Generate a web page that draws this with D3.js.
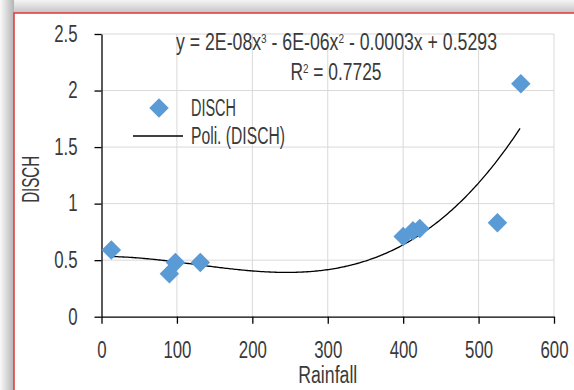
<!DOCTYPE html>
<html>
<head>
<meta charset="utf-8">
<script src="https://cdn.jsdelivr.net/npm/d3@7"></script>
<style>
  html, body { margin: 0; background: #fff; overflow: hidden; }
  svg { display: block; }
  text { font-family: "Liberation Sans", Arial, sans-serif; fill: #3a3a3a; }
</style>
</head>
<body>
<div id="chart"></div>
<script>
// Data
const rainfall = [13, 90, 98, 131, 400, 413, 422, 525, 556];
const disch = [0.59, 0.38, 0.48, 0.48, 0.71, 0.76, 0.78, 0.83, 2.06];
const xTicks = [0, 100, 200, 300, 400, 500, 600];
const yTicks = [0, 0.5, 1, 1.5, 2, 2.5];
const seriesName = "DISCH";
const trendName = "Poli. (DISCH)";
const xTitle = "Rainfall";
const yTitle = "DISCH";
// equation pieces: [text, superscript?]
const equation = [["y = 2E-08x", false], ["3", true], [" - 6E-06x", false], ["2", true], [" - 0.0003x + 0.5293", false]];
const rsq = [["R", false], ["2", true], [" = 0.7725", false]];

const width = 574, height = 390;
const plot = { left: 101.5, right: 554, top: 34, bottom: 316.7 };
const fs = 23; // font size, squeezed horizontally to mimic the condensed face

const svg = d3.select("#chart").append("svg")
  .attr("width", width)
  .attr("height", height);

// Shadowy frame around the chart
const defs = svg.append("defs");
const gTop = defs.append("linearGradient").attr("id", "shTop").attr("x1", 0).attr("y1", 0).attr("x2", 0).attr("y2", 1);
gTop.append("stop").attr("offset", "0%").attr("stop-color", "#f4f4f4");
gTop.append("stop").attr("offset", "100%").attr("stop-color", "#c4c4c4");
const gLeft = defs.append("linearGradient").attr("id", "shLeft").attr("x1", 0).attr("y1", 0).attr("x2", 1).attr("y2", 0);
gLeft.append("stop").attr("offset", "0%").attr("stop-color", "#fafafa");
gLeft.append("stop").attr("offset", "100%").attr("stop-color", "#b4b4b4");

svg.append("rect").attr("x", 0).attr("y", 0).attr("width", width).attr("height", 13).attr("fill", "url(#shTop)");
svg.append("rect").attr("x", 0).attr("y", 0).attr("width", 14).attr("height", height).attr("fill", "url(#shLeft)");
svg.append("rect").attr("x", 14).attr("y", 13).attr("width", width - 14).attr("height", height - 13).attr("fill", "#fff");
svg.append("path")
  .attr("d", `M14,${height}V13H${width}`)
  .attr("fill", "none")
  .attr("stroke", "#e0383c")
  .attr("stroke-width", 1.5);

// Scales
const x = d3.scaleLinear().domain([0, 600]).range([plot.left, plot.right]);
const y = d3.scaleLinear().domain([0, 2.5]).range([plot.bottom, plot.top]);

// squeeze text horizontally (by factor k, or to a width when k > 2)
function squeeze(sel, k) {
  sel.each(function () {
    const len = this.getComputedTextLength();
    d3.select(this).attr("textLength", k > 2 ? k : len * k).attr("lengthAdjust", "spacingAndGlyphs");
  });
}

// Gridlines
const grid = svg.append("g").attr("stroke", "#d9d9d9").attr("stroke-width", 1);
grid.selectAll(".h").data(yTicks.slice(1)).enter().append("line")
  .attr("x1", plot.left).attr("x2", plot.right)
  .attr("y1", d => y(d)).attr("y2", d => y(d));
grid.selectAll(".v").data(xTicks.slice(1)).enter().append("line")
  .attr("y1", plot.top).attr("y2", plot.bottom)
  .attr("x1", d => x(d)).attr("x2", d => x(d));

// Axes
const xAxis = svg.append("g")
  .attr("transform", `translate(0,${plot.bottom})`)
  .call(d3.axisBottom(x).tickValues(xTicks).tickSize(7).tickSizeOuter(0).tickPadding(18));
const yAxis = svg.append("g")
  .attr("transform", `translate(${plot.left},0)`)
  .call(d3.axisLeft(y).tickValues(yTicks).tickSize(7).tickSizeOuter(0).tickPadding(17).tickFormat(d3.format("")));
[xAxis, yAxis].forEach(a => {
  a.select(".domain").attr("stroke", "#000").attr("stroke-width", 1.3);
  a.selectAll(".tick line").attr("stroke", "#000").attr("stroke-width", 1.3);
  a.selectAll(".tick text").attr("font-size", fs).attr("fill", "#3a3a3a")
    .style("font-family", '"Liberation Sans", Arial, sans-serif');
  squeeze(a.selectAll(".tick text"), 0.73);
});

// Cubic least-squares trendline fitted to the points
function polyfit(xs, ys, deg) {
  const n = deg + 1;
  const A = Array.from({ length: n }, () => new Array(n + 1).fill(0));
  xs.forEach((xv, k) => {
    const t = xv / 100;
    for (let i = 0; i < n; i++) {
      for (let j = 0; j < n; j++) A[i][j] += Math.pow(t, i + j);
      A[i][n] += ys[k] * Math.pow(t, i);
    }
  });
  for (let c = 0; c < n; c++) {
    let p = c;
    for (let r = c + 1; r < n; r++) if (Math.abs(A[r][c]) > Math.abs(A[p][c])) p = r;
    [A[c], A[p]] = [A[p], A[c]];
    for (let r = 0; r < n; r++) {
      if (r === c) continue;
      const f = A[r][c] / A[c][c];
      for (let j = c; j <= n; j++) A[r][j] -= f * A[c][j];
    }
  }
  const coef = A.map((row, i) => row[n] / row[i]);
  return v => coef.reduce((s, a, i) => s + a * Math.pow(v / 100, i), 0);
}
const fit = polyfit(rainfall, disch, 3);
const xs = d3.range(d3.min(rainfall), d3.max(rainfall) + 0.5, 2);
svg.append("path")
  .datum(xs)
  .attr("fill", "none")
  .attr("stroke", "#000")
  .attr("stroke-width", 1.3)
  .attr("d", d3.line().x(d => x(d)).y(d => y(fit(d))));

// Points
const diamond = d3.symbol().type(d3.symbolSquare).size(190);
svg.append("g").selectAll("path")
  .data(rainfall.map((r, i) => [r, disch[i]]))
  .enter().append("path")
  .attr("d", diamond)
  .attr("transform", d => `translate(${x(d[0])},${y(d[1])}) rotate(45)`)
  .attr("fill", "#5b9bd5");

// Equation & R²
function richText(parts, cx, cy, w) {
  const t = svg.append("text").attr("x", cx).attr("y", cy).attr("text-anchor", "middle").attr("font-size", fs);
  parts.forEach(([s, sup]) => {
    const ts = t.append("tspan").text(s);
    if (sup) ts.attr("font-size", 13).attr("baseline-shift", "super");
  });
  squeeze(t, w);
  return t;
}
richText(equation, 336.5, 50, 321);
richText(rsq, 336, 80, 91);

// Legend
svg.append("path")
  .attr("d", diamond)
  .attr("transform", "translate(159,108) rotate(45)")
  .attr("fill", "#5b9bd5");
svg.append("line").attr("x1", 133).attr("x2", 183).attr("y1", 136).attr("y2", 136)
  .attr("stroke", "#000").attr("stroke-width", 1.3);
const l1 = svg.append("text").attr("x", 191).attr("y", 116).attr("font-size", fs).text(seriesName);
const l2 = svg.append("text").attr("x", 191).attr("y", 144).attr("font-size", fs).text(trendName);
squeeze(l1, 45);
squeeze(l2, 94);

// Axis titles
const xt = svg.append("text").attr("x", (plot.left + plot.right) / 2).attr("y", 383)
  .attr("text-anchor", "middle").attr("font-size", fs).text(xTitle);
squeeze(xt, 59);
const yt = svg.append("text")
  .attr("transform", `translate(39,${(plot.top + plot.bottom) / 2 + 4}) rotate(-90)`)
  .attr("text-anchor", "middle").attr("font-size", fs).text(yTitle);
squeeze(yt, 47);
</script>
</body>
</html>
